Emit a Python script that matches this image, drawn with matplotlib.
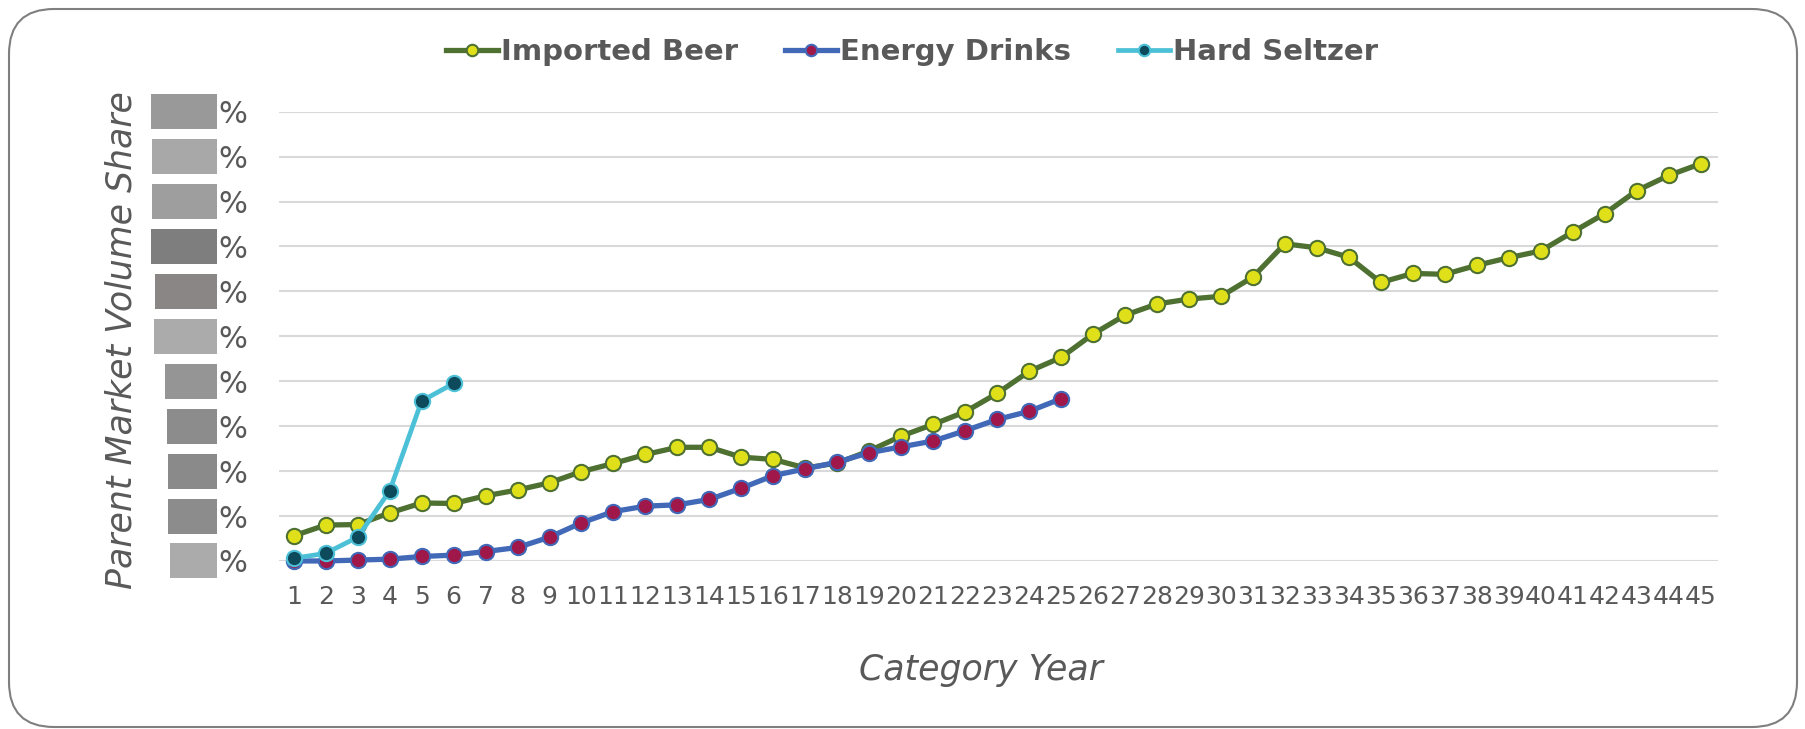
import matplotlib.pyplot as plt
from matplotlib.patches import FancyBboxPatch, Rectangle

# category years 1..45
years = list(range(1, 46))

imported_beer = [0.56, 0.80, 0.81, 1.07, 1.29, 1.28, 1.45, 1.58, 1.74, 1.99,
                 2.17, 2.37, 2.53, 2.53, 2.31, 2.26, 2.07, 2.18, 2.45, 2.78,
                 3.04, 3.32, 3.73, 4.22, 4.53, 5.05, 5.47, 5.72, 5.83, 5.89,
                 6.32, 7.06, 6.97, 6.76, 6.20, 6.40, 6.38, 6.58, 6.75, 6.90,
                 7.32, 7.73, 8.24, 8.58, 8.84]
energy_drinks = [0.0, 0.0, 0.02, 0.04, 0.10, 0.13, 0.21, 0.30, 0.53, 0.85,
                 1.10, 1.22, 1.25, 1.37, 1.62, 1.90, 2.05, 2.20, 2.41, 2.54,
                 2.67, 2.90, 3.15, 3.33, 3.61]
hard_seltzer = [0.06, 0.17, 0.53, 1.56, 3.56, 3.95]

# y tick labels are masked in the source, only the % sign is readable
ytick_values = list(range(0, 11))
ytick_labels = ['%'] * 11

text_gray = '#595959'

fig = plt.figure(figsize=(18.06, 7.29), dpi=100)
ax = fig.add_axes([0.1545, 0.2305, 0.7965, 0.6163])

ax.plot(years, imported_beer, color='#4E7031', lw=3.8, marker='o', ms=11,
        mfc='#E0E01A', mec='#4E7031', mew=1.5, label='Imported Beer', clip_on=False, zorder=3)
ax.plot(years[:len(energy_drinks)], energy_drinks, color='#4169B8', lw=3.8, marker='o', ms=11,
        mfc='#A0174A', mec='#4169B8', mew=1.5, label='Energy Drinks', clip_on=False, zorder=4)
ax.plot(years[:len(hard_seltzer)], hard_seltzer, color='#4BC0D6', lw=3.4, marker='o', ms=11,
        mfc='#0D4A5C', mec='#4BC0D6', mew=1.5, label='Hard Seltzer', clip_on=False, zorder=5)

ax.set_xlim(0.54, 45.53)
ax.set_ylim(0, 10)
ax.set_xticks(years)
ax.set_xticklabels([str(y) for y in years])
ax.set_yticks(ytick_values)
ax.set_yticklabels(ytick_labels)
ax.tick_params(axis='x', length=0, pad=17, labelsize=18, labelcolor=text_gray)
ax.tick_params(axis='y', length=0, pad=23, labelsize=22, labelcolor=text_gray)
ax.grid(axis='y', color='#D9D9D9', lw=1.5)
ax.set_axisbelow(True)
for s in ax.spines.values():
    s.set_visible(False)

# grey masks over the hidden tick numbers
box_colors = ['#ABABAB', '#8C8C8C', '#8A8A8A', '#8C8C8C', '#959595', '#ABABAB',
              '#8A8686', '#7E7E7E', '#9E9E9E', '#A8A8A8', '#999999']
box_left = [170, 168, 168, 167, 165, 154, 155, 151, 152, 152, 151]
for v, c, l in zip(ytick_values, box_colors, box_left):
    x0 = (l - 279) / 1439
    x1 = (217 - 279) / 1439
    ax.add_patch(Rectangle((x0, v - 0.39), x1 - x0, 0.78, transform=ax.get_yaxis_transform(),
                           color=c, clip_on=False, lw=0))

fig.text(0.543, 0.081, 'Category Year', fontsize=25, style='italic', color=text_gray,
         ha='center', va='center')
fig.text(0.067, 0.534, 'Parent Market Volume Share', rotation=90, fontsize=25,
         style='italic', color=text_gray, ha='center', va='center')

leg = fig.legend(loc='center', bbox_to_anchor=(0.505, 0.929), ncol=3, frameon=False,
                 handlelength=1.8, handletextpad=0.1, columnspacing=1.6, markerscale=0.75,
                 prop={'size': 21, 'weight': 'bold'})
for t in leg.get_texts():
    t.set_color(text_gray)

# rounded border around the whole chart
border = FancyBboxPatch((0.09, 0.02), 17.88, 7.18, boxstyle='round,pad=0,rounding_size=0.45',
                        transform=fig.dpi_scale_trans, fill=False, ec='#7F7F7F', lw=1.5)
fig.patches.append(border)

fig.savefig('out.png', dpi=100)
